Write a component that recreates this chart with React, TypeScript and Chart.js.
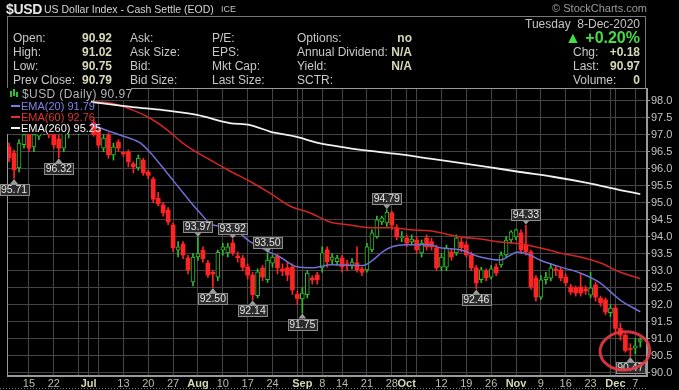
import React, { useEffect, useRef } from 'react';
import { Chart, registerables } from 'chart.js';

Chart.register(...registerables);

const FONT = '"Liberation Sans", Arial, Helvetica, sans-serif';

// ---------- data ----------
const firstDate = '2020-06-09';
const lastDate = '2020-12-08';
const holidays = ['2020-07-03', '2020-09-07', '2020-11-26'];

const opens = [96.64,96.46,96.02,96.70,97.07,96.64,96.95,97.10,97.30,97.00,
 96.87,96.60,97.05,97.20,97.10,97.30,97.20,97.35,97.13,96.60,
 96.99,96.40,96.78,96.48,96.49,96.14,96.02,96.25,95.90,95.69,
 95.13,94.93,94.78,94.34,93.60,93.78,93.37,92.67,93.40,93.60,
 93.22,92.95,92.81,93.60,93.52,93.81,93.43,93.37,93.11,92.87,
 92.26,93.08,92.73,93.22,93.43,93.05,93.08,93.10,92.30,92.17,
 92.29,92.78,92.87,93.08,93.61,93.31,93.26,93.37,93.20,93.16,
 93.23,93.05,93.02,93.61,94.00,94.43,94.40,94.70,94.26,93.97,
 93.96,93.84,93.90,93.52,93.96,93.85,93.67,93.10,93.10,93.55,
 93.52,93.84,93.76,93.46,93.08,92.73,92.99,92.81,93.11,93.17,
 93.46,93.90,93.99,94.11,93.76,93.55,92.78,92.22,92.73,92.78,
 93.05,93.02,92.81,92.52,92.49,92.52,92.46,92.28,92.58,92.19,
 92.14,91.76,91.90,91.30,91.10,90.70,90.72,90.92];
const highs = [96.75,96.55,96.85,97.20,97.25,97.15,97.30,97.45,97.40,97.10,
 97.00,97.20,97.35,97.40,97.45,97.40,97.50,97.45,97.20,97.00,
 97.05,96.75,96.85,96.50,96.55,96.20,96.40,96.30,95.95,95.75,
 95.30,95.00,94.85,94.40,93.85,93.85,93.45,93.50,93.97,93.70,
 93.30,93.00,93.60,93.80,93.80,93.92,93.55,93.45,93.20,92.95,
 93.05,93.15,93.50,93.45,93.48,93.20,93.25,93.20,92.40,92.50,
 93.00,92.85,92.95,93.70,93.70,93.50,93.45,93.45,93.30,93.35,
 93.70,93.10,93.80,94.20,94.60,94.60,94.79,94.75,94.35,94.15,
 94.05,94.05,94.00,93.90,94.05,93.95,93.75,93.50,93.75,93.65,
 94.05,93.95,93.85,93.55,93.15,93.10,93.05,93.15,93.20,93.55,
 94.00,94.18,94.22,94.20,94.33,93.60,92.85,92.85,92.95,93.20,
 93.15,93.10,92.90,92.60,92.55,92.90,92.55,92.95,92.65,92.25,
 92.20,92.00,92.00,91.45,91.15,90.85,91.00,91.02];
const lows = [96.20,95.71,95.90,96.60,96.50,96.50,96.85,97.00,96.90,96.60,
 96.32,96.50,96.90,97.00,97.00,97.05,97.10,96.95,96.60,96.50,
 96.30,96.25,96.50,96.35,96.05,95.87,95.95,95.80,95.70,95.00,
 94.90,94.60,94.35,93.55,93.40,93.35,92.90,92.55,93.30,93.25,
 92.80,92.50,92.70,93.45,93.40,93.45,93.25,93.00,92.75,92.14,
 92.20,92.70,92.65,93.10,92.90,92.85,92.70,92.30,92.00,91.75,
 92.20,92.60,92.60,92.95,93.10,93.20,93.15,92.95,93.00,93.05,
 92.95,92.85,92.95,93.55,93.95,94.35,94.30,94.20,93.90,93.85,
 93.70,93.75,93.50,93.40,93.60,93.60,93.00,93.00,93.00,93.30,
 93.45,93.55,93.40,93.00,92.46,92.65,92.70,92.75,92.85,93.10,
 93.40,93.80,93.90,93.50,93.45,92.45,92.10,92.15,92.60,92.70,
 92.85,92.70,92.55,92.30,92.25,92.25,92.30,92.20,92.10,91.95,
 91.70,91.65,91.20,90.95,90.60,90.47,90.55,90.75];
const closes = [96.31,95.96,96.75,97.00,96.60,97.00,97.10,97.30,97.00,96.70,
 96.60,97.05,97.20,97.10,97.30,97.20,97.35,97.00,96.69,96.90,
 96.40,96.64,96.60,96.43,96.20,96.05,96.31,95.87,95.80,95.10,
 94.96,94.70,94.43,93.67,93.70,93.46,93.02,93.40,93.50,93.35,
 92.87,92.90,93.54,93.70,93.70,93.52,93.38,93.10,92.87,92.29,
 92.96,92.81,93.31,93.40,93.08,92.98,92.87,92.43,92.18,92.34,
 92.93,92.72,92.73,93.52,93.26,93.40,93.37,93.11,93.14,93.25,
 93.02,92.95,93.70,94.11,94.49,94.55,94.72,94.34,93.99,94.00,
 93.81,93.93,93.61,93.81,93.70,93.70,93.08,93.40,93.67,93.40,
 93.96,93.67,93.46,93.08,92.64,93.02,92.79,93.05,92.93,93.46,
 93.90,94.14,94.20,93.61,93.55,92.52,92.22,92.73,92.81,93.08,
 93.00,92.78,92.64,92.37,92.34,92.34,92.40,92.49,92.22,92.05,
 91.78,91.90,91.30,91.10,90.65,90.68,90.79,90.97];

// EMA overlays: [trading-day position, value]
const ema20Points: [number, number][] = [[16.3,97.35],[18.3,97.2],[22.3,96.99],[26.3,96.76],[28.3,96.49],[31.8,95.87],[35,95.29],[38.4,94.7],[41,94.34],[44.4,94.28],[48.5,93.85],[51.9,93.58],[54.5,93.4],[57.9,93.11],[61.1,93.08],[64.6,93.17],[71.2,93.15],[73.2,93.31],[75.2,93.56],[77.2,93.71],[79.8,93.76],[84.7,93.76],[86.7,93.67],[90.7,93.61],[94.8,93.4],[98.8,93.31],[102.4,93.55],[104.8,93.46],[106.8,93.31],[110.8,93.11],[114.9,92.93],[118.9,92.64],[122.9,92.14],[127,91.79]];
const ema60Points: [number, number][] = [[15.9,97.96],[20.3,97.93],[24.9,97.72],[28.4,97.48],[31.8,97.14],[34.5,96.8],[36.4,96.6],[40.4,96.26],[44.4,95.93],[48.5,95.62],[52.5,95.28],[56.5,94.9],[60.5,94.7],[64.6,94.43],[68.6,94.34],[72.6,94.26],[76.6,94.26],[80.7,94.2],[84.7,94.17],[90.7,93.99],[94.8,93.93],[98.8,93.84],[102.8,93.79],[106.8,93.67],[110.8,93.52],[114.9,93.4],[118.9,93.23],[122.9,92.96],[127,92.76]];
const ema260Points: [number, number][] = [[15.9,97.97],[24.9,97.81],[31,97.72],[37.8,97.58],[44.4,97.34],[48.5,97.28],[52.5,97.09],[57.9,96.93],[61.9,96.76],[68,96.61],[72.6,96.52],[78,96.43],[84.7,96.29],[89.3,96.2],[96.2,96.05],[102.8,95.9],[109.4,95.76],[116.3,95.58],[122.9,95.37],[127,95.25]];

const tickDates = ['2020-06-15','2020-06-22','2020-06-29','2020-07-01','2020-07-06','2020-07-13','2020-07-20','2020-07-27','2020-08-03','2020-08-10','2020-08-17','2020-08-24','2020-08-31','2020-09-01','2020-09-08','2020-09-14','2020-09-21','2020-09-28','2020-10-01','2020-10-05','2020-10-12','2020-10-19','2020-10-26','2020-11-02','2020-11-09','2020-11-16','2020-11-23','2020-11-30','2020-12-01','2020-12-07'];
const tickLabels = ['15','22','','Jul','','13','20','27','Aug','10','17','24','','Sep','8','14','21','28','Oct','','12','19','26','Nov','9','16','23','','Dec','7'];
const monthLabels = ['Jul','Aug','Sep','Oct','Nov','Dec'];
const yTickValues = [90,90.5,91,91.5,92,92.5,93,93.5,94,94.5,95,95.5,96,96.5,97,97.5,98];

const annotDates = ['2020-06-10','2020-06-23','2020-08-03','2020-08-06','2020-08-12','2020-08-18','2020-08-21','2020-09-01','2020-09-25','2020-10-21','2020-11-04','2020-12-04'];
const annotValues = [95.71,96.32,93.97,92.50,93.92,92.14,93.50,91.75,94.79,92.46,94.33,90.47];
const annotKinds = ['low','low','high','low','high','low','high','low','high','low','high','low'];

// hand-drawn circle (data units): centre position, centre value, half-width in days, half-height in price
const circleMark = [123.9, 90.64, 5.0, 0.56];

// ---------- layout constants ----------
const W = 679, H = 390;
const X_MIN = -0.42, X_MAX = 128.35;
const Y_MIN = 89.9, Y_MAX = 98.37;
const GREEN = '#2fbf2f';
const RED = '#ff2424';
const GRID = '#444444';
const BORDER = '#9a9a9a';

function tradingDays(): string[] {
  const out: string[] = [];
  const d = new Date(firstDate + 'T00:00:00Z');
  const end = new Date(lastDate + 'T00:00:00Z');
  while (d <= end) {
    const wd = d.getUTCDay();
    const s = d.toISOString().slice(0, 10);
    if (wd !== 0 && wd !== 6 && !holidays.includes(s)) out.push(s);
    d.setUTCDate(d.getUTCDate() + 1);
  }
  return out;
}

const T = (p: any) => {
  const { x, r, y, size = 12, bold = false, color = '#c8c8c8', ls, children } = p;
  const st: any = {
    position: 'absolute', top: y - 8, height: 16, lineHeight: '16px',
    fontFamily: FONT, fontSize: size, fontWeight: bold ? 'bold' : 'normal',
    color, whiteSpace: 'pre', letterSpacing: ls,
  };
  if (r !== undefined) st.right = W - r; else st.left = x;
  return <div style={st}>{children}</div>;
};

export default function App() {
  const ref = useRef<HTMLCanvasElement>(null);

  useEffect(() => {
    document.body.style.margin = '0';
    document.body.style.background = '#000';
    const days = tradingDays();
    const idxOf = (d: string) => days.indexOf(d);
    const up = closes.map((c, i) => c >= opens[i]);
    const wick = closes.map((_, i) => ({ x: i, y: [lows[i], highs[i]] }));
    const body = closes.map((_, i) => ({ x: i, y: [opens[i], closes[i]] }));
    const tickIdx = tickDates.map(idxOf);
    const annIdx = annotDates.map(idxOf);

    const overlay = {
      id: 'overlay',
      afterDraw(chart: any) {
        const { ctx, chartArea: a, scales } = chart;
        const xs = scales.x, ys = scales.y;
        ctx.save();
        // plot frame
        ctx.strokeStyle = BORDER;
        ctx.lineWidth = 1;
        ctx.strokeRect(Math.round(a.left) + 0.5, Math.round(a.top) + 0.5, Math.round(a.width) - 1, Math.round(a.height) - 1);
        // dotted footer line
        ctx.setLineDash([1, 2]);
        ctx.strokeStyle = '#808080';
        ctx.beginPath();
        ctx.moveTo(0, 388.5);
        ctx.lineTo(a.right, 388.5);
        ctx.stroke();
        ctx.setLineDash([]);
        // value call-outs
        ctx.font = '10.5px ' + FONT;
        ctx.textAlign = 'center';
        ctx.textBaseline = 'middle';
        annIdx.forEach((ix, k) => {
          const px = xs.getPixelForValue(ix);
          const py = ys.getPixelForValue(annotValues[k]);
          const dir = annotKinds[k] === 'low' ? 1 : -1;
          const txt = annotValues[k].toFixed(2);
          const w = Math.round(ctx.measureText(txt).width) + 3;
          const bh = 11;
          const tip = py + dir * 0.5;
          const base = tip + dir * 5;
          ctx.fillStyle = '#9a9a9a';
          ctx.beginPath();
          ctx.moveTo(px, tip);
          ctx.lineTo(px - 4, base);
          ctx.lineTo(px + 4, base);
          ctx.closePath();
          ctx.fill();
          const top = dir === 1 ? base : base - bh;
          const bx = Math.round(px - w / 2) + 0.5;
          const by = Math.round(top) + 0.5;
          ctx.fillStyle = '#2b2b2b';
          ctx.fillRect(bx, by, w, bh);
          ctx.strokeStyle = '#8c8c8c';
          ctx.strokeRect(bx, by, w, bh);
          ctx.fillStyle = '#e4e4e4';
          ctx.fillText(txt, px, by + bh / 2 + 0.5);
        });
        // red hand-drawn ellipse
        const cx = xs.getPixelForValue(circleMark[0]);
        const cy = ys.getPixelForValue(circleMark[1]);
        const rx = Math.abs(xs.getPixelForValue(circleMark[0] + circleMark[2]) - cx);
        const ry = Math.abs(ys.getPixelForValue(circleMark[1] + circleMark[3]) - cy);
        ctx.strokeStyle = 'rgba(232,58,66,0.9)';
        ctx.lineWidth = 3;
        ctx.beginPath();
        ctx.ellipse(cx, cy, rx, ry, -0.05, 0, Math.PI * 2);
        ctx.stroke();
        ctx.restore();
      },
    };

    const lineDs = (pts: [number, number][], color: string, width: number) => ({
      type: 'line',
      data: pts.map(([x, y]) => ({ x, y })),
      borderColor: color,
      borderWidth: width,
      pointRadius: 0,
      cubicInterpolationMode: 'monotone',
      fill: false,
      order: 0,
    });

    const chart = new Chart(ref.current as HTMLCanvasElement, {
      type: 'bar',
      data: {
        datasets: [
          lineDs(ema260Points, '#f0f0f0', 1.8) as any,
          lineDs(ema60Points, '#d42424', 1.5) as any,
          lineDs(ema20Points, '#6f6fd6', 1.5) as any,
          {
            type: 'bar',
            data: body as any,
            backgroundColor: up.map((u) => (u ? '#000000' : RED)),
            borderColor: up.map((u) => (u ? GREEN : RED)),
            borderWidth: up.map((u) => (u ? 1 : 0)),
            borderSkipped: false,
            barThickness: 4,
            grouped: false,
            minBarLength: 1,
            order: 1,
          } as any,
          {
            type: 'bar',
            data: wick as any,
            backgroundColor: up.map((u) => (u ? GREEN : RED)),
            borderWidth: 0,
            barThickness: 1,
            grouped: false,
            order: 2,
          } as any,
        ],
      },
      options: {
        responsive: false,
        devicePixelRatio: 1,
        animation: false,
        events: [],
        layout: { padding: { left: 7, top: 88, right: 0, bottom: 0 } },
        plugins: { legend: { display: false }, tooltip: { enabled: false } },
        scales: {
          x: {
            type: 'linear',
            min: X_MIN,
            max: X_MAX,
            offset: false,
            grid: { color: GRID, offset: false, drawTicks: false, lineWidth: 1 },
            border: { display: true, color: BORDER },
            afterBuildTicks: (s: any) => { s.ticks = tickIdx.map((v) => ({ value: v })); },
            afterFit: (s: any) => { s.height = 14; },
            ticks: {
              autoSkip: false,
              maxRotation: 0,
              minRotation: 0,
              padding: 1,
              callback: (_v: any, i: number) => tickLabels[i],
              color: (c: any) => (monthLabels.includes(tickLabels[c.index]) ? '#d6d6b6' : '#bdbdad'),
              font: (c: any) => ({ family: FONT, size: 11, weight: monthLabels.includes(tickLabels[c.index]) ? 'bold' : 'normal' }),
            },
          } as any,
          y: {
            type: 'linear',
            position: 'right',
            min: Y_MIN,
            max: Y_MAX,
            grid: { color: GRID, drawTicks: true, tickLength: 3, tickColor: BORDER },
            border: { display: true, color: BORDER },
            afterBuildTicks: (s: any) => { s.ticks = yTickValues.map((v) => ({ value: v })); },
            afterFit: (s: any) => { s.width = 32; },
            ticks: {
              padding: 1,
              color: '#c4c4c4',
              font: { family: FONT, size: 11 },
              callback: (v: any) => Number(v).toFixed(1),
            },
          } as any,
        },
      } as any,
      plugins: [overlay as any],
    });
    return () => chart.destroy();
  }, []);

  const valC = '#d8d8b8';
  return (
    <div style={{ position: 'absolute', left: 0, top: 0, width: W, height: H, background: '#000', overflow: 'hidden' }}>
      <canvas ref={ref} width={W} height={H} style={{ position: 'absolute', left: 0, top: 0, width: W, height: H }} />
      {/* title */}
      <T x={6} y={9} size={14} bold color="#e6e6e6" ls="-0.3px">$USD</T>
      <T x={44} y={9} size={10.5} color="#d4d4d4">US Dollar Index - Cash Settle (EOD)</T>
      <T x={221} y={9} size={9} color="#c4c4c4">ICE</T>
      <T r={647} y={8} size={11} color="#9c9c9c">© StockCharts.com</T>
      {/* header box */}
      <div style={{ position: 'absolute', left: 7, top: 16, width: 639, height: 72, borderTop: '1px solid #777', borderLeft: '1px solid #777', borderRight: '1px solid #777', boxSizing: 'border-box' }} />
      <T x={13} y={38}>Open:</T>
      <T x={13} y={52}>High:</T>
      <T x={13} y={66}>Low:</T>
      <T x={13} y={80}>Prev Close:</T>
      <T r={112} y={38} bold color={valC}>90.92</T>
      <T r={112} y={52} bold color={valC}>91.02</T>
      <T r={112} y={66} bold color={valC}>90.75</T>
      <T r={112} y={80} bold color={valC}>90.79</T>
      <T x={130} y={38}>Ask:</T>
      <T x={130} y={52}>Ask Size:</T>
      <T x={130} y={66}>Bid:</T>
      <T x={130} y={80}>Bid Size:</T>
      <T x={212} y={38}>P/E:</T>
      <T x={212} y={52}>EPS:</T>
      <T x={212} y={66}>Mkt Cap:</T>
      <T x={212} y={80}>Last Size:</T>
      <T x={297} y={38}>Options:</T>
      <T x={297} y={52}>Annual Dividend:</T>
      <T x={297} y={66}>Yield:</T>
      <T x={297} y={80}>SCTR:</T>
      <T r={412} y={38} bold color={valC}>no</T>
      <T r={412} y={52} bold color={valC}>N/A</T>
      <T r={412} y={66} bold color={valC}>N/A</T>
      <T r={640} y={24} color="#c4c4c4">Tuesday  8-Dec-2020</T>
      <T r={640} y={38} size={16} bold color="#45dd45">▲ +0.20%</T>
      <T x={573} y={52}>Chg:</T>
      <T x={573} y={66}>Last:</T>
      <T x={573} y={80}>Volume:</T>
      <T r={640} y={52} bold color={valC}>+0.18</T>
      <T r={640} y={66} bold color={valC}>90.97</T>
      <T r={640} y={80} bold color={valC}>0</T>
      {/* legend */}
      <div style={{ position: 'absolute', left: 0, top: 88, width: 131, height: 12, background: '#000' }} />
      <div style={{ position: 'absolute', left: 0, top: 100, width: 91, height: 34, background: '#000' }} />
      <div style={{ position: 'absolute', left: 10, top: 91, width: 2, height: 6, background: GREEN }} />
      <div style={{ position: 'absolute', left: 13, top: 89, width: 2, height: 7, background: GREEN }} />
      <div style={{ position: 'absolute', left: 16, top: 92, width: 2, height: 5, background: GREEN }} />
      <T x={22} y={94} size={12} color="#b4b4b4" ls="0.4px">$USD (Daily) 90.97</T>
      <div style={{ position: 'absolute', left: 11, top: 105, width: 9, height: 2, background: '#7a7ae0' }} />
      <T x={21} y={106} size={11} color="#8282e6">EMA(20) 91.79</T>
      <div style={{ position: 'absolute', left: 11, top: 116, width: 9, height: 2, background: '#e03030' }} />
      <T x={21} y={117} size={11} color="#e23232">EMA(60) 92.76</T>
      <div style={{ position: 'absolute', left: 11, top: 127, width: 9, height: 2, background: '#f4f4f4' }} />
      <T x={21} y={128} size={11} color="#f4f4f4">EMA(260) 95.25</T>
    </div>
  );
}
